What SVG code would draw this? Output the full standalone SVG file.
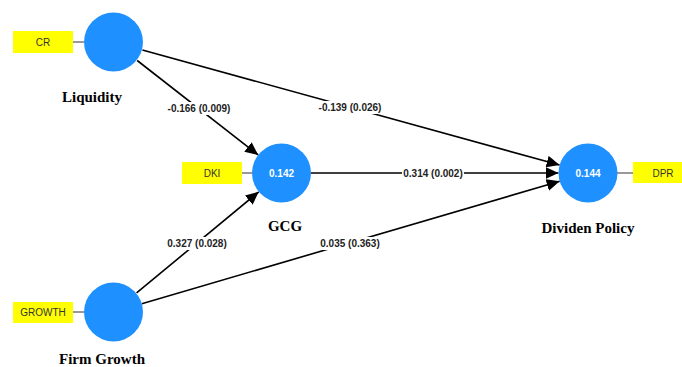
<svg xmlns="http://www.w3.org/2000/svg" width="682" height="367" viewBox="0 0 682 367">
<defs>
<marker id="arr" markerUnits="userSpaceOnUse" markerWidth="14" markerHeight="12" refX="13" refY="6" orient="auto">
<path d="M0,0 L13,6 L0,12 Z" fill="#000"/>
</marker>
<style>
.lv{fill:#1E90FF;}
.ind{fill:#FFFF00;}
.it{font-family:"Liberation Sans",Arial,sans-serif;font-size:10px;fill:#333;text-anchor:middle;}
.ct{font-family:"Liberation Sans",Arial,sans-serif;font-size:10px;font-weight:bold;fill:#fff;text-anchor:middle;}
.nm{font-family:"Liberation Serif","Times New Roman",serif;font-size:15px;font-weight:bold;fill:#000;text-anchor:middle;}
.edge{stroke:#000;stroke-width:1.6;fill:none;}
.ln{stroke:#555;stroke-width:1.2;}
.lb{font-family:"Liberation Sans",Arial,sans-serif;font-size:10px;font-weight:bold;fill:#222;text-anchor:middle;}
.lbg{fill:#fff;}
</style>
</defs>
<rect width="682" height="367" fill="#fff"/>
<g id="connectors">
<line class="edge" x1="137.2" y1="60.5" x2="258.2" y2="154.9" marker-end="url(#arr)"/>
<line class="edge" x1="142.4" y1="50" x2="559.6" y2="165.1" marker-end="url(#arr)"/>
<line class="edge" x1="311" y1="173" x2="558.5" y2="173" marker-end="url(#arr)"/>
<line class="edge" x1="136.6" y1="292.9" x2="258.8" y2="191.8" marker-end="url(#arr)"/>
<line class="edge" x1="141.8" y1="303.7" x2="559.7" y2="181.3" marker-end="url(#arr)"/>
<rect class="lbg" x="166" y="102" width="66" height="13"/>
<text class="lb" x="199" y="112">-0.166 (0.009)</text>
<rect class="lbg" x="317" y="101" width="66" height="13"/>
<text class="lb" x="350" y="111">-0.139 (0.026)</text>
<rect class="lbg" x="402" y="167" width="62" height="13"/>
<text class="lb" x="433" y="177">0.314 (0.002)</text>
<rect class="lbg" x="166" y="237" width="62" height="13"/>
<text class="lb" x="197" y="247">0.327 (0.028)</text>
<rect class="lbg" x="319" y="237" width="62" height="13"/>
<text class="lb" x="350" y="247">0.035 (0.363)</text>
</g>
<g id="liquidity">
<line class="ln" x1="73" y1="42" x2="84" y2="42"/>
<rect class="ind" x="13" y="31" width="60" height="22"/>
<text class="it" x="43" y="46">CR</text>
<circle class="lv" cx="113.5" cy="42" r="29.5"/>
<text class="nm" x="92" y="102">Liquidity</text>
</g>
<g id="gcg">
<line class="ln" x1="242" y1="173" x2="252" y2="173"/>
<rect class="ind" x="182" y="162" width="60" height="22"/>
<text class="it" x="212" y="177">DKI</text>
<circle class="lv" cx="281.5" cy="173" r="29.5"/>
<text class="ct" x="281.5" y="177">0.142</text>
<text class="nm" x="285" y="231">GCG</text>
</g>
<g id="dividen">
<line class="ln" x1="617" y1="173" x2="633" y2="173"/>
<rect class="ind" x="633" y="162" width="60" height="21"/>
<text class="it" x="663" y="177">DPR</text>
<circle class="lv" cx="588" cy="173" r="29.5"/>
<text class="ct" x="588" y="177">0.144</text>
<text class="nm" x="588" y="233">Dividen Policy</text>
</g>
<g id="firmgrowth">
<line class="ln" x1="73" y1="312" x2="84" y2="312"/>
<rect class="ind" x="13" y="302" width="60" height="21"/>
<text class="it" x="43" y="316">GROWTH</text>
<circle class="lv" cx="113.5" cy="312" r="29.5"/>
<text class="nm" x="102" y="364">Firm Growth</text>
</g>
</svg>
